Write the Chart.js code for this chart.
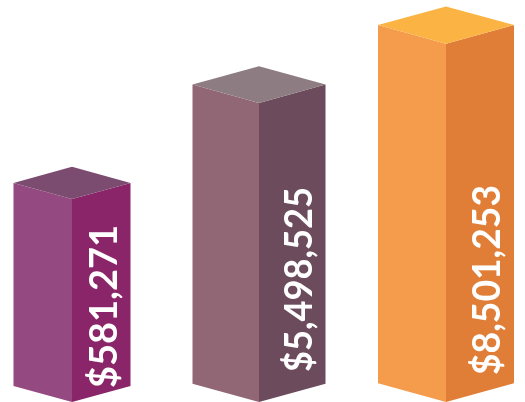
<!DOCTYPE html>
<html>
<head>
<meta charset="utf-8">
<script src="https://cdn.jsdelivr.net/npm/chart.js@4"></script>
<style>
  html, body { margin: 0; padding: 0; background: #fff; }
  canvas { display: block; }
</style>
</head>
<body>
<canvas id="chart" width="525" height="402"></canvas>
<script>
// three amounts, shown as labels on the boxes
const categories = ['1', '2', '3'];
const amounts = [581271, 5498525, 8501253];
// box heights as % of the plot height (not to scale with amounts)
const heights = [50.5, 74.4, 89.1];

const amountLabels = amounts.map((v) => '$' + v.toLocaleString('en-US'));

function poly(ctx, pts, color) {
    ctx.beginPath();
    ctx.moveTo(pts[0][0], pts[0][1]);
    for (let k = 1; k < pts.length; k++) ctx.lineTo(pts[k][0], pts[k][1]);
    ctx.closePath();
    ctx.fillStyle = color;
    ctx.fill();
}

const box3d = {
    id: 'box3d',
    afterDatasetsDraw(chart, args, opts) {
        const ctx = chart.ctx;
        const meta = chart.getDatasetMeta(0);
        meta.data.forEach((bar, i) => {
            const x = bar.x;
            const top = bar.y;
            const bottom = bar.base;
            const w = opts.halfWidths[i];
            const d = w * opts.slope;
            const c = opts.colors[i];

            poly(ctx, [[x - w, top - d], [x, top], [x, bottom], [x - w, bottom - d]], c.left);
            poly(ctx, [[x, top], [x + w, top - d], [x + w, bottom - d], [x, bottom]], c.right);
            poly(ctx, [[x - w, top - d], [x, top - 2 * d], [x + w, top - d], [x, top]], c.top);

            const text = amountLabels[i];
            ctx.save();
            ctx.translate(x + w - opts.textInset, bottom - opts.textStart[i]);
            ctx.rotate(-Math.PI / 2);
            ctx.font = opts.font;
            const m = ctx.measureText(text).width;
            ctx.scale(opts.textLengths[i] / m, 1);
            ctx.fillStyle = '#ffffff';
            ctx.textAlign = 'left';
            ctx.textBaseline = 'alphabetic';
            ctx.fillText(text, 0, 0);
            ctx.restore();
        });
    },
};

new Chart(document.getElementById('chart'), {
    type: 'bar',
    data: {
        labels: categories,
        datasets: [
            {
                data: heights,
                backgroundColor: 'rgba(0,0,0,0)',
                borderWidth: 0,
                barThickness: 130,
                clip: false,
            },
        ],
    },
    options: {
        responsive: false,
        animation: false,
        layout: {
            padding: { left: 72, right: 79, top: 0, bottom: 0 },
        },
        scales: {
            x: { display: false, offset: false },
            y: { display: false, min: 0, max: 100 },
        },
        plugins: {
            legend: { display: false },
            tooltip: { enabled: false },
            box3d: {
                halfWidths: [58.5, 66.5, 68],
                slope: 0.275,
                colors: [
                    { left: '#944a80', right: '#8b2569', top: '#7b4c6f' },
                    { left: '#916675', right: '#6b4b5c', top: '#8d7c81' },
                    { left: '#f59b4c', right: '#e07e37', top: '#fbb444' },
                ],
                font: 'bold 39px Lato',
                textInset: 14,
                textStart: [14, 30, 27],
                textLengths: [163, 185, 190],
            },
        },
    },
    plugins: [box3d],
});
</script>
</body>
</html>
